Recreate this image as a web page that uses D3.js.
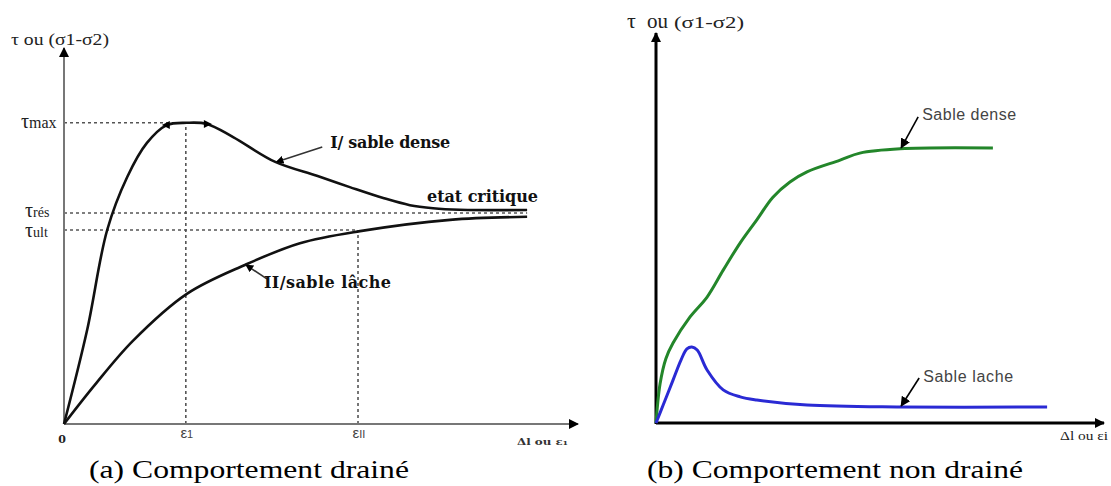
<!DOCTYPE html>
<html lang="fr">
<head>
<meta charset="UTF-8">
<title>Comportement drainé / non drainé</title>
<script src="https://d3js.org/d3.v7.min.js"></script>
<style>
  body { margin: 0; background: #fff; }
  svg { display: block; }
  .serif { font-family: 'Liberation Serif', 'Times New Roman', serif; }
  .bserif { font-family: 'DejaVu Serif', serif; font-weight: bold; }
  .sans { font-family: 'Liberation Sans', Arial, sans-serif; }
</style>
</head>
<body>
<svg id="chart" width="1111" height="486"></svg>
<script>
// (a) drained test, arbitrary units 0..100 on both axes
const drainedDense = [[0,0],[4.5,25],[8.4,51.6],[12.3,65.7],[16.1,74.7],[20.0,79.5],[23.9,80.1],
  [27.8,79.8],[32.9,76.3],[41.1,69.7],[49.2,66.0],[55.6,63.0],[62.1,60.1],[67.3,58.2],
  [71.8,57.4],[77.0,57.0],[90.1,56.9]];
const drainedLoose = [[0,0],[6.0,10.4],[13.4,22.1],[23.9,34.6],[35.2,42.3],[45.9,48.1],
  [57.6,51.3],[75.1,54.3],[90.1,55.1]];
const tauLevels = [
  { sub: 'max', value: 80.1, to: 23.7 },
  { sub: 'rés', value: 56.1, to: 90.1 },
  { sub: 'ult', value: 51.6, to: 57.2 }
];
const strainTicks = [
  { sub: '1', value: 23.7, to: 80.1 },
  { sub: 'II', value: 57.2, to: 51.6 }
];

// (b) undrained test
const undrainedDense = [[0,0],[0.9,10],[2.2,16.5],[3.8,20.5],[7.6,27.2],[11.4,32.3],[15.0,39.2],
  [18.8,46.2],[22.5,52.1],[26.1,57.9],[29.9,61.8],[33.7,64.4],[41.1,67.4],[45.5,69.2],
  [54.5,70.3],[75.2,70.5]];
const undrainedLoose = [[0,0],[1.6,4.6],[3.8,11.0],[5.6,16.2],[6.9,19.0],[8.0,19.5],[9.2,18.7],
  [11.4,13.6],[15.0,8.5],[18.8,6.7],[22.5,5.9],[33.7,4.6],[54.5,4.1],[87.3,4.1]];

const svg = d3.select('#chart');

const defs = svg.append('defs');
defs.append('marker')
  .attr('id', 'head')
  .attr('viewBox', '0 0 10 10')
  .attr('refX', 9).attr('refY', 5)
  .attr('markerWidth', 10).attr('markerHeight', 10)
  .attr('markerUnits', 'userSpaceOnUse')
  .attr('orient', 'auto')
  .append('path').attr('d', 'M0,0 L10,5 L0,10 Z').attr('fill', '#000');
defs.append('marker')
  .attr('id', 'head-small')
  .attr('viewBox', '0 0 10 10')
  .attr('refX', 9).attr('refY', 5)
  .attr('markerWidth', 8).attr('markerHeight', 8)
  .attr('markerUnits', 'userSpaceOnUse')
  .attr('orient', 'auto')
  .append('path').attr('d', 'M0,0 L10,5 L0,10 Z').attr('fill', '#000');

// ---------- (a) Comportement drainé ----------
const xA = d3.scaleLinear().domain([0, 100]).range([64, 578]);
const yA = d3.scaleLinear().domain([0, 100]).range([424, 48]);
const lineA = d3.line().x(d => xA(d[0])).y(d => yA(d[1])).curve(d3.curveCatmullRom.alpha(0.5));

const gA = svg.append('g');

// dashed guide lines
gA.selectAll('.hguide').data(tauLevels).enter().append('line')
  .attr('x1', xA(0)).attr('x2', d => xA(d.to))
  .attr('y1', d => yA(d.value)).attr('y2', d => yA(d.value))
  .attr('stroke', '#555').attr('stroke-width', 1.6).attr('stroke-dasharray', '3,3');
gA.selectAll('.vguide').data(strainTicks).enter().append('line')
  .attr('x1', d => xA(d.value)).attr('x2', d => xA(d.value))
  .attr('y1', yA(0)).attr('y2', d => yA(d.to))
  .attr('stroke', '#555').attr('stroke-width', 1.6).attr('stroke-dasharray', '3,3');

// axes
gA.append('line').attr('x1', xA(0)).attr('y1', yA(0)).attr('x2', xA(0)).attr('y2', yA(100))
  .attr('stroke', '#777').attr('stroke-width', 2).attr('marker-end', 'url(#head)');
gA.append('line').attr('x1', xA(0)).attr('y1', yA(0)).attr('x2', xA(100)).attr('y2', yA(0))
  .attr('stroke', '#777').attr('stroke-width', 2).attr('marker-end', 'url(#head)');

// curves
gA.append('path').datum(drainedDense).attr('d', lineA)
  .attr('fill', 'none').attr('stroke', '#111').attr('stroke-width', 2.6);
gA.append('path').datum(drainedLoose).attr('d', lineA)
  .attr('fill', 'none').attr('stroke', '#111').attr('stroke-width', 2.6);

// little arrowheads bracketing the peak
[[drainedDense[5], -1], [drainedDense[7], 1]].forEach(([p, dir]) => {
  const cx = xA(p[0]), cy = yA(p[1]);
  gA.append('path')
    .attr('d', `M${cx + dir * 5},${cy} L${cx - dir * 3},${cy - 4} L${cx - dir * 3},${cy + 4} Z`)
    .attr('fill', '#000');
});

// y labels
const tauLab = gA.selectAll('.tau').data(tauLevels).enter().append('text')
  .attr('class', 'serif')
  .attr('x', d => d.sub === 'max' ? 21 : 25)
  .attr('y', d => yA(d.value) + (d.sub === 'max' ? 5 : d.sub === 'rés' ? 4 : 7))
  .attr('fill', '#222');
tauLab.append('tspan').attr('font-size', 20).text('τ');
tauLab.append('tspan').attr('font-size', d => d.sub === 'max' ? 16 : 14).text(d => d.sub);

// x labels
gA.append('text').attr('class', 'bserif').attr('x', xA(0) - 2).attr('y', 443)
  .attr('text-anchor', 'middle').attr('font-size', 11).attr('fill', '#222').text('0');
const epsLab = gA.selectAll('.eps').data(strainTicks).enter().append('text')
  .attr('class', 'sans')
  .attr('x', d => xA(d.value) + 1).attr('y', 438)
  .attr('text-anchor', 'middle').attr('fill', '#444');
epsLab.append('tspan').attr('font-size', 15).text('ε');
epsLab.append('tspan').attr('font-size', 11).text(d => d.sub);
gA.append('text').attr('class', 'bserif').attr('x', 517).attr('y', 445)
  .attr('font-size', 10).attr('fill', '#333')
  .attr('textLength', 51).attr('lengthAdjust', 'spacingAndGlyphs').text('Δl ou ε₁');

gA.append('text').attr('class', 'serif').attr('x', 11).attr('y', 45)
  .attr('font-size', 16).attr('fill', '#222')
  .attr('textLength', 98).attr('lengthAdjust', 'spacingAndGlyphs').text('τ ou (σ1-σ2)');

// annotations
const tA1 = drainedDense[9];
gA.append('line')
  .attr('x1', xA(tA1[0]) + 47).attr('y1', yA(tA1[1]) - 15)
  .attr('x2', xA(tA1[0]) + 1).attr('y2', yA(tA1[1]))
  .attr('stroke', '#333').attr('stroke-width', 1.6).attr('marker-end', 'url(#head-small)');
gA.append('text').attr('class', 'bserif')
  .attr('x', xA(tA1[0]) + 55).attr('y', yA(tA1[1]) - 14)
  .attr('font-size', 16).attr('fill', '#111').attr('textLength', 120).text('I/ sable dense');

const tA2 = drainedLoose[4];
gA.append('line')
  .attr('x1', xA(tA2[0]) + 22).attr('y1', yA(tA2[1]) + 14)
  .attr('x2', xA(tA2[0]) + 1).attr('y2', yA(tA2[1]))
  .attr('stroke', '#333').attr('stroke-width', 1.6).attr('marker-end', 'url(#head-small)');
gA.append('text').attr('class', 'bserif')
  .attr('x', xA(tA2[0]) + 19).attr('y', yA(tA2[1]) + 23)
  .attr('font-size', 16).attr('fill', '#111').attr('textLength', 127).text('II/sable lâche');

gA.append('text').attr('class', 'bserif')
  .attr('x', 427).attr('y', 202)
  .attr('font-size', 16).attr('fill', '#111').attr('textLength', 111).text('etat critique');

gA.append('text').attr('class', 'serif').attr('x', 89).attr('y', 478)
  .attr('font-size', 26).attr('fill', '#000')
  .attr('textLength', 320).attr('lengthAdjust', 'spacingAndGlyphs')
  .text('(a) Comportement drainé');

// ---------- (b) Comportement non drainé ----------
const xB = d3.scaleLinear().domain([0, 100]).range([656, 1104]);
const yB = d3.scaleLinear().domain([0, 100]).range([423, 33]);
const lineB = d3.line().x(d => xB(d[0])).y(d => yB(d[1])).curve(d3.curveCatmullRom.alpha(0.5));

const gB = svg.append('g');

gB.append('line').attr('x1', xB(0)).attr('y1', yB(0) + 1).attr('x2', xB(0)).attr('y2', yB(100))
  .attr('stroke', '#000').attr('stroke-width', 3).attr('marker-end', 'url(#head)');
gB.append('line').attr('x1', xB(0)).attr('y1', yB(0)).attr('x2', xB(100)).attr('y2', yB(0))
  .attr('stroke', '#000').attr('stroke-width', 3).attr('marker-end', 'url(#head)');

gB.append('path').datum(undrainedDense).attr('d', lineB)
  .attr('fill', 'none').attr('stroke', '#23862a').attr('stroke-width', 3);
gB.append('path').datum(undrainedLoose).attr('d', lineB)
  .attr('fill', 'none').attr('stroke', '#2a2ad4').attr('stroke-width', 3);

const title = gB.append('text').attr('class', 'serif').attr('y', 28).attr('fill', '#222');
title.append('tspan').attr('x', 627).attr('font-size', 22).text('τ');
title.append('tspan').attr('x', 647).attr('font-size', 21).text('ou');
title.append('tspan').attr('x', 674).attr('font-size', 17)
  .attr('textLength', 70).attr('lengthAdjust', 'spacingAndGlyphs').text('(σ1-σ2)');

gB.append('text').attr('class', 'serif').attr('x', 1060).attr('y', 440)
  .attr('font-size', 13).attr('fill', '#222')
  .attr('textLength', 48).attr('lengthAdjust', 'spacingAndGlyphs').text('Δl ou εi');

const tB1 = undrainedDense[14];
gB.append('line')
  .attr('x1', xB(tB1[0]) + 18).attr('y1', yB(tB1[1]) - 32)
  .attr('x2', xB(tB1[0]) + 1).attr('y2', yB(tB1[1]) - 1)
  .attr('stroke', '#000').attr('stroke-width', 1.6).attr('marker-end', 'url(#head)');
gB.append('text').attr('class', 'sans')
  .attr('x', xB(tB1[0]) + 22).attr('y', yB(tB1[1]) - 29)
  .attr('font-size', 16).attr('fill', '#444').attr('textLength', 94).text('Sable dense');

const tB2 = undrainedLoose[12];
gB.append('line')
  .attr('x1', xB(tB2[0]) + 19).attr('y1', yB(tB2[1]) - 29)
  .attr('x2', xB(tB2[0]) + 1).attr('y2', yB(tB2[1]) - 1)
  .attr('stroke', '#000').attr('stroke-width', 1.6).attr('marker-end', 'url(#head)');
gB.append('text').attr('class', 'sans')
  .attr('x', xB(tB2[0]) + 23).attr('y', yB(tB2[1]) - 25)
  .attr('font-size', 16).attr('fill', '#444').attr('textLength', 90).text('Sable lache');

gB.append('text').attr('class', 'serif').attr('x', 647).attr('y', 478)
  .attr('font-size', 26).attr('fill', '#000')
  .attr('textLength', 376).attr('lengthAdjust', 'spacingAndGlyphs')
  .text('(b) Comportement non drainé');
</script>
</body>
</html>
